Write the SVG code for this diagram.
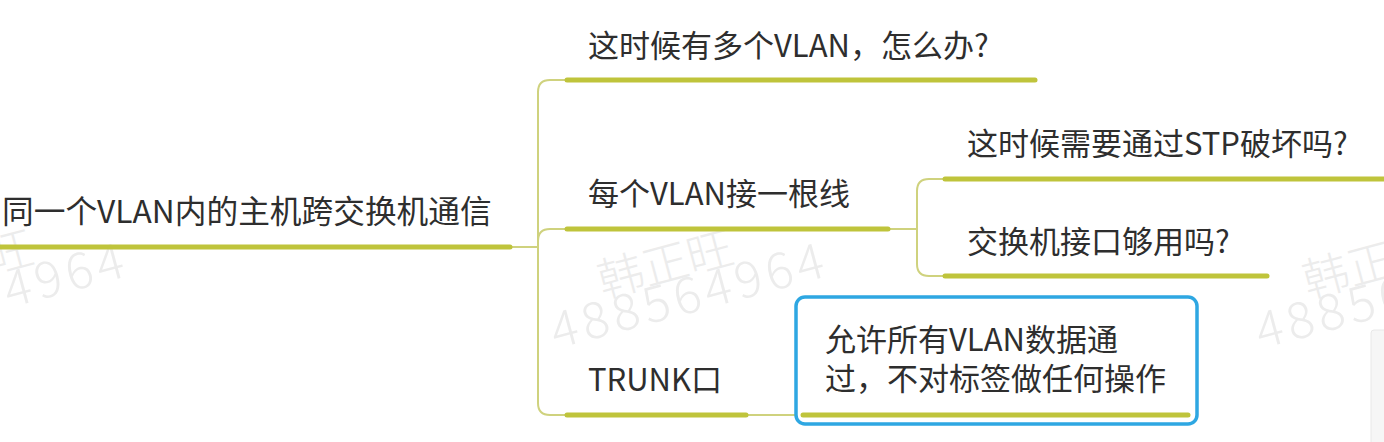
<svg xmlns="http://www.w3.org/2000/svg" width="1384" height="442" viewBox="0 0 1384 442">
<style>
.t{font-family:"Noto Sans CJK SC","Noto Sans",sans-serif;font-size:31px;fill:#2e2e2e}
.ul{stroke:#bfc43b;stroke-width:5;stroke-linecap:round;fill:none}
.cn{stroke:#cfd27e;stroke-width:2;fill:none}
.wm{font-family:"Noto Sans CJK SC","Liberation Sans",sans-serif;font-weight:300;fill:#ececec}
</style>
<rect width="1384" height="442" fill="#ffffff"/>
<g id="watermark">
  <g id="wm-left" transform="translate(-700,0)">
    <text class="wm" font-size="46" transform="translate(603,298) rotate(-15)">韩正旺</text>
    <text class="wm" font-size="50" letter-spacing="5" transform="translate(556,349) rotate(-15)">488564964</text>
  </g>
  <g id="wm-mid">
    <text class="wm" font-size="46" transform="translate(603,298) rotate(-15)">韩正旺</text>
    <text class="wm" font-size="50" letter-spacing="5" transform="translate(556,349) rotate(-15)">488564964</text>
  </g>
  <g id="wm-right" transform="translate(705,0)">
    <text class="wm" font-size="46" transform="translate(603,298) rotate(-15)">韩正旺</text>
    <text class="wm" font-size="50" letter-spacing="5" transform="translate(556,349) rotate(-15)">488564964</text>
  </g>
</g>
<rect x="1371" y="330" width="16" height="115" rx="3" fill="#f6f6f6" stroke="#e8e8e8" stroke-width="1"/>
<g id="connectors">
  <path class="cn" d="M510 247 H538"/>
  <path class="cn" d="M538 247 V92 Q538 80 550 80 H567"/>
  <path class="cn" d="M538 247 V241 Q538 229 550 229 H567"/>
  <path class="cn" d="M538 247 V403 Q538 415 550 415 H567"/>
  <path class="cn" d="M888 229 H917"/>
  <path class="cn" d="M917 229 V191 Q917 179 929 179 H945"/>
  <path class="cn" d="M917 229 V264 Q917 276 929 276 H945"/>
  <path class="cn" d="M746 415 H796"/>
</g>
<g id="root">
  <text class="t" x="2" y="223" style="font-size:31.7px">同一个VLAN内的主机跨交换机通信</text>
  <line class="ul" x1="0" y1="247" x2="510" y2="247"/>
</g>
<g id="n-multi">
  <text class="t" x="588" y="57">这时候有多个VLAN，怎么办?</text>
  <line class="ul" x1="567" y1="80" x2="1035" y2="80"/>
</g>
<g id="n-perline">
  <text class="t" x="588" y="205">每个VLAN接一根线</text>
  <line class="ul" x1="567" y1="229" x2="888" y2="229"/>
</g>
<g id="n-stp">
  <text class="t" x="967" y="155">这时候需要通过STP破坏吗?</text>
  <line class="ul" x1="945" y1="179" x2="1386" y2="179"/>
</g>
<g id="n-ports">
  <text class="t" x="967" y="253">交换机接口够用吗?</text>
  <line class="ul" x1="945" y1="276" x2="1267" y2="276"/>
</g>
<g id="n-trunk">
  <text class="t" x="588" y="391">TRUNK口</text>
  <line class="ul" x1="567" y1="415" x2="746" y2="415"/>
</g>
<g id="n-allow">
  <rect x="796" y="297" width="401" height="127" rx="9" fill="none" stroke="#2ea7e2" stroke-width="3.5"/>
  <text class="t" x="825" y="351">允许所有VLAN数据通</text>
  <text class="t" x="825" y="390">过，不对标签做任何操作</text>
  <line class="ul" x1="803" y1="415" x2="1188" y2="415"/>
</g>
</svg>
